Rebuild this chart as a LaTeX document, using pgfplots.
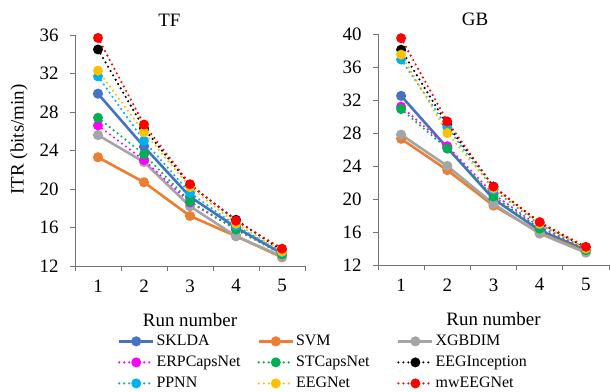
\documentclass[border=0pt]{standalone}
\usepackage{pgfplots}
\pgfplotsset{compat=1.18}
\usepackage{fontspec}
\setmainfont{Liberation Serif}

\definecolor{cSKLDA}{RGB}{68,114,196}
\definecolor{cSVM}{RGB}{237,125,49}
\definecolor{cXGB}{RGB}{165,165,165}
\definecolor{cERP}{RGB}{255,0,255}
\definecolor{cST}{RGB}{0,176,80}
\definecolor{cINC}{RGB}{0,0,0}
\definecolor{cPPNN}{RGB}{0,176,240}
\definecolor{cEEG}{RGB}{255,192,0}
\definecolor{cMW}{RGB}{255,0,0}

\pgfplotsset{
  solidline/.style={color=#1, line width=2.6bp, mark=*, mark size=3.7bp, mark options={solid, fill=#1, draw=#1}},
  dotline/.style={color=#1, line width=2.4bp, line cap=round, dash pattern=on 0bp off 5bp, mark=*, mark size=3.7bp, mark options={solid, fill=#1, draw=#1}},
  runaxis/.style={
    scale only axis,
    height=231bp,
    xmin=0.5, xmax=5.5,
    axis x line=bottom, axis y line=left,
    axis line style={-, draw=black!55, line width=0.7bp},
    tick style={draw=black!55, line width=0.7bp},
    tick align=outside,
    major tick length=5bp,
    xtick={0.5,1.5,...,5.5}, xticklabels={},
    extra x ticks={1,2,3,4,5},
    extra x tick style={major tick length=0pt, xticklabel style={yshift=-10bp}},
    extra x tick labels={1,2,3,4,5},
    ytick distance=4,
    yticklabel style={xshift=-8bp},
    tick label style={font=\fontsize{19}{22}\selectfont},
    /pgf/number format/assume math mode=true,
    label style={font=\fontsize{19}{22}\selectfont},
    title style={font=\fontsize{19}{22}\selectfont, anchor=base},
    xlabel={Run number},
    xlabel style={yshift=-9bp},
    clip=false,
  },
  legend image code/.code={\draw[mark repeat=2, mark phase=2, #1] plot coordinates {(0bp,0bp) (17bp,0bp) (34bp,0bp)};},
}

\newcommand{\lt}[1]{\makebox[99bp][l]{#1}}

\begin{document}
\begin{tikzpicture}
\begin{axis}[runaxis,
  at={(0bp,0bp)}, width=230bp,
  ymin=12, ymax=36,
  title={TF}, title style={at={(0.41,1)}, yshift=3bp},
  ylabel={ITR (bits/min)},
  ylabel style={yshift=5bp, xshift=11bp},
  legend columns=3,
  legend cell align=left,
  legend style={at={(1.097,-0.282)}, anchor=north, draw=none, fill=none,
    font=\fontsize{16}{19}\selectfont, row sep=5bp,
    /tikz/every even column/.append style={column sep=0bp}},
]
\addplot[solidline=cSKLDA] coordinates {(1,29.9) (2,24.4) (3,19.2) (4,16.0) (5,13.3)};
\addlegendentry{\lt{SKLDA}}
\addplot[solidline=cSVM] coordinates {(1,23.3) (2,20.7) (3,17.2) (4,15.1) (5,12.9)};
\addlegendentry{\lt{SVM}}
\addplot[solidline=cXGB] coordinates {(1,25.6) (2,22.8) (3,18.2) (4,15.1) (5,13.0)};
\addlegendentry{\lt{XGBDIM}}
\addplot[dotline=cERP] coordinates {(1,26.6) (2,23.0) (3,18.6) (4,15.8) (5,13.3)};
\addlegendentry{\lt{ERPCapsNet}}
\addplot[dotline=cST] coordinates {(1,27.4) (2,23.6) (3,18.7) (4,15.8) (5,13.2)};
\addlegendentry{\lt{STCapsNet}}
\addplot[dotline=cINC] coordinates {(1,34.5) (2,26.3) (3,20.4) (4,16.8) (5,13.6)};
\addlegendentry{\lt{EEGInception}}
\addplot[dotline=cPPNN] coordinates {(1,31.7) (2,25.0) (3,19.6) (4,16.2) (5,13.4)};
\addlegendentry{\lt{PPNN}}
\addplot[dotline=cEEG] coordinates {(1,32.3) (2,25.9) (3,20.2) (4,16.4) (5,13.5)};
\addlegendentry{\lt{EEGNet}}
\addplot[dotline=cMW] coordinates {(1,35.7) (2,26.7) (3,20.5) (4,16.7) (5,13.8)};
\addlegendentry{\lt{mwEEGNet}}
\end{axis}

\begin{axis}[runaxis,
  at={(303bp,1bp)}, width=231bp,
  ymin=12, ymax=40,
  title={GB}, title style={at={(0.42,1)}, yshift=3bp},
]
\addplot[solidline=cSKLDA] coordinates {(1,32.5) (2,26.2) (3,20.0) (4,16.2) (5,13.8)};
\addplot[solidline=cSVM] coordinates {(1,27.3) (2,23.5) (3,19.2) (4,15.9) (5,13.6)};
\addplot[solidline=cXGB] coordinates {(1,27.8) (2,24.0) (3,19.4) (4,15.8) (5,13.5)};
\addplot[dotline=cERP] coordinates {(1,31.2) (2,26.4) (3,20.6) (4,16.6) (5,13.9)};
\addplot[dotline=cST] coordinates {(1,30.9) (2,26.1) (3,20.3) (4,16.4) (5,13.8)};
\addplot[dotline=cINC] coordinates {(1,38.1) (2,29.0) (3,21.5) (4,17.1) (5,14.1)};
\addplot[dotline=cPPNN] coordinates {(1,36.9) (2,28.7) (3,21.1) (4,16.9) (5,14.0)};
\addplot[dotline=cEEG] coordinates {(1,37.5) (2,28.0) (3,21.3) (4,17.0) (5,14.0)};
\addplot[dotline=cMW] coordinates {(1,39.5) (2,29.4) (3,21.5) (4,17.2) (5,14.2)};
\end{axis}

\pgfresetboundingbox
\path (-75bp,-126bp) rectangle (535bp,266bp);
\end{tikzpicture}
\end{document}
